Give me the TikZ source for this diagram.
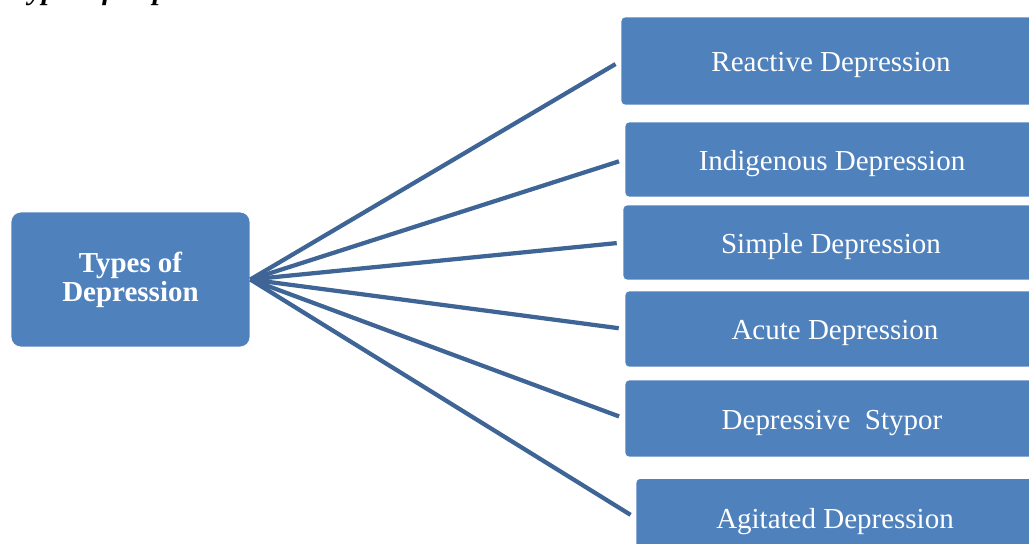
\documentclass[tikz,border=0pt]{standalone}
\usepackage{fontspec}
\setmainfont{Liberation Serif}
\begin{document}
\begin{tikzpicture}[x=0.02cm,y=-0.02cm,
  rootbox/.style={fill=boxfill,draw=white,line width=0.4pt,rounded corners=0.2cm,
    text=white,align=center,inner sep=0pt,font=\fontsize{16.5}{16.5}\selectfont\bfseries},
  leafbox/.style={fill=boxfill,draw=white,line width=0.4pt,rounded corners=0.08cm,
    text=white,inner sep=0pt,text height=14pt,text depth=1.6pt,font=\fontsize{16.5}{19}\selectfont},
  link/.style={draw=linkblue,line width=0.085cm,shorten >=0.12cm}]
 \definecolor{boxfill}{HTML}{4F81BD}
 \definecolor{linkblue}{HTML}{3E6596}
 \useasboundingbox (0,0) rectangle (1029,544);
 \clip (0,0) rectangle (1029,544);
 % heading of the page, cut off at the top
 \node [anchor=base west,inner sep=0pt,font=\fontsize{16.5}{16.5}\selectfont\bfseries\itshape] (heading) at (12,0) {Types of Depression};
 % the root and its six kinds
 \node [rootbox,minimum width=4.78cm,minimum height=2.7cm] (types) at (130.5,279.5) {Types of\\Depression};
 \node [leafbox,minimum width=8.4cm,minimum height=1.76cm] (reactive) at (831,61) {Reactive Depression};
 \node [leafbox,minimum width=8.28cm,minimum height=1.5cm] (indigenous) at (832,159.5) {Indigenous Depression};
 \node [leafbox,minimum width=8.32cm,minimum height=1.5cm] (simple) at (831,242.5) {Simple Depression};
 \node [leafbox,minimum width=8.4cm,minimum height=1.52cm] (acute) at (835,329) {Acute Depression};
 \node [leafbox,minimum width=8.28cm,minimum height=1.54cm] (stypor) at (832,418.5) {Depressive\ \ Stypor};
 \node [leafbox,minimum width=7.96cm,minimum height=1.58cm] (agitated) at (835,518) {Agitated Depression};
 \foreach \kind in {reactive,indigenous,simple,acute,stypor,agitated}
  \draw [link] (types.east) -- (\kind.west);
\end{tikzpicture}
\end{document}
